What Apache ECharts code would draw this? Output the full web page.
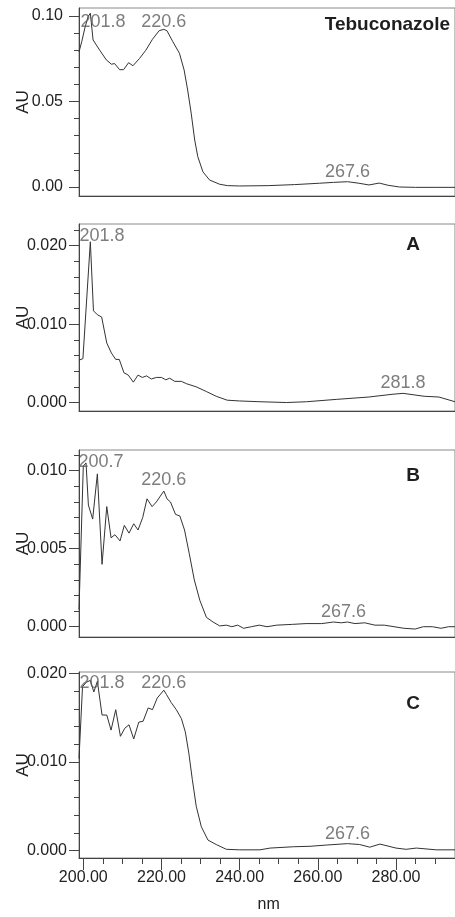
<!DOCTYPE html>
<html>
<head>
<meta charset="utf-8">
<script src="https://cdn.jsdelivr.net/npm/echarts@6/dist/echarts.min.js"></script>
<style>
  html, body { margin: 0; padding: 0; background: #ffffff; }
  #chart { width: 455px; height: 917px; }
</style>
</head>
<body>
<div id="chart"></div>
<script>
// UV spectra: [wavelength (nm), absorbance (AU)]
const tebuconazole = [
  [198.9, 0.0790], [199.6, 0.0850], [200.4, 0.0930], [201.2, 0.0995], [201.8, 0.1016],
  [202.5, 0.0860], [204.2, 0.0800], [205.9, 0.0743], [207.2, 0.0718], [208.0, 0.0722],
  [209.3, 0.0686], [210.3, 0.0686], [211.6, 0.0727], [212.7, 0.0709], [214.4, 0.0752],
  [216.0, 0.0800], [217.7, 0.0864], [219.4, 0.0914], [220.6, 0.0922], [221.4, 0.0914],
  [222.9, 0.0850], [224.6, 0.0782], [225.8, 0.0684], [226.7, 0.0567], [227.6, 0.0432],
  [228.5, 0.0275], [229.3, 0.0177], [230.6, 0.0089], [232.3, 0.0041], [234.9, 0.0016],
  [236.9, 0.0008], [240.0, 0.0006], [247.3, 0.0008], [254.0, 0.0014], [260.4, 0.0022],
  [264.0, 0.0027], [267.6, 0.0031], [270.5, 0.0022], [273.1, 0.0012], [275.7, 0.0023],
  [278.0, 0.0010], [280.9, 0.0000], [285.0, -0.0002], [290.0, -0.0002], [295.1, -0.0002]
];
const sampleA = [
  [198.9, 0.0054], [199.9, 0.0056], [201.8, 0.0205], [202.6, 0.0117], [203.6, 0.0112],
  [204.7, 0.0109], [206.0, 0.0076], [207.2, 0.0063], [208.3, 0.0055], [209.2, 0.0055],
  [210.4, 0.0038], [211.5, 0.0035], [212.8, 0.0026], [214.0, 0.0035], [215.1, 0.0032],
  [216.2, 0.0034], [217.4, 0.0030], [218.7, 0.0032], [220.0, 0.0032], [221.1, 0.0029],
  [222.1, 0.0031], [223.4, 0.0027], [225.1, 0.0027], [226.4, 0.0024], [228.9, 0.0020],
  [231.5, 0.0014], [234.0, 0.0008], [236.8, 0.0003], [240.0, 0.0002], [245.2, 0.0001],
  [252.0, 0.0000], [257.1, 0.0001], [264.7, 0.0004], [273.0, 0.0007], [279.0, 0.00105],
  [281.8, 0.00117], [287.2, 0.0008], [291.0, 0.0007], [295.1, 0.0001]
];
const sampleB = [
  [198.9, 0.0011], [200.0, 0.0103], [200.7, 0.0105], [201.3, 0.0078], [202.4, 0.0069],
  [203.6, 0.0098], [204.8, 0.0040], [206.0, 0.0077], [207.1, 0.0057], [208.1, 0.0059],
  [209.4, 0.0055], [210.5, 0.0065], [211.7, 0.0060], [212.9, 0.0066], [214.0, 0.0062],
  [215.2, 0.0070], [216.3, 0.0082], [217.6, 0.0077], [218.7, 0.0080], [220.6, 0.0087],
  [221.4, 0.0082], [222.3, 0.0080], [223.6, 0.0072], [224.7, 0.0071], [225.9, 0.0062],
  [227.1, 0.0047], [228.4, 0.0030], [229.8, 0.0017], [231.5, 0.0006], [233.2, 0.0003],
  [234.9, 0.00005], [236.6, 0.0001], [238.0, 0.0000], [239.5, 0.0001], [241.0, -0.0001],
  [243.0, 0.0000], [245.0, 0.0001], [247.0, 0.0000], [249.5, 0.0001], [253.5, 0.00015],
  [257.0, 0.0002], [261.0, 0.0002], [264.0, 0.0003], [266.0, 0.00025], [267.6, 0.0003],
  [269.5, 0.0002], [272.0, 0.00025], [274.6, 0.0001], [277.0, 0.0001], [279.5, 0.0000],
  [282.0, -0.0001], [284.9, -0.00015], [287.0, 0.0000], [289.3, 0.0000], [291.5, -0.0001],
  [293.5, 0.0000], [295.1, 0.0000]
];
const sampleC = [
  [198.9, 0.0104], [199.8, 0.0185], [200.8, 0.0190], [201.8, 0.0192], [202.7, 0.0179],
  [203.6, 0.0191], [204.8, 0.0153], [206.0, 0.0153], [207.1, 0.0136], [208.3, 0.0159],
  [209.5, 0.0129], [210.6, 0.0138], [211.7, 0.0142], [212.9, 0.0126], [214.2, 0.0145],
  [215.3, 0.0146], [216.6, 0.0161], [217.7, 0.0159], [218.9, 0.0172], [220.6, 0.0181],
  [221.3, 0.0176], [222.5, 0.0167], [223.8, 0.0159], [225.1, 0.0149], [226.1, 0.0134],
  [227.0, 0.0110], [227.9, 0.0080], [228.9, 0.0050], [230.2, 0.0027], [231.9, 0.0012],
  [234.0, 0.0007], [236.6, 0.00016], [240.0, 0.0001], [245.2, 0.0001], [247.8, 0.0003],
  [253.8, 0.00045], [258.0, 0.0005], [262.2, 0.00064], [267.6, 0.0008], [270.7, 0.0007],
  [273.3, 0.0004], [275.9, 0.00075], [280.0, 0.0003], [282.6, 0.00016], [285.2, 0.0003],
  [290.3, 0.0001], [295.1, 0.0001]
];

// labelled maxima: [wavelength, absorbance]
const peaksTebuconazole = [[201.8, 0.1016], [220.6, 0.0922], [267.6, 0.0031]];
const peaksA = [[201.8, 0.0205], [281.8, 0.00117]];
const peaksB = [[200.7, 0.0105], [220.6, 0.0087], [267.6, 0.0003]];
const peaksC = [[201.8, 0.0192], [220.6, 0.0181], [267.6, 0.0008]];

const panelNames = ['Tebuconazole', 'A', 'B', 'C'];
const yAxisTitle = 'AU';
const xAxisTitle = 'nm';

// axis scales and tick values
const xRange = [198.9, 295.1];
const xTickValues = [200, 220, 240, 260, 280];
const xMinorTickValues = [205, 210, 215, 225, 230, 235, 245, 250, 255, 265, 270, 275, 285, 290];
const yRanges = [[-0.00526, 0.10468], [-0.00108, 0.02277], [-0.00066, 0.01133], [-0.00082, 0.02015]];
const yTickValues = [[0, 0.05, 0.10], [0, 0.010, 0.020], [0, 0.005, 0.010], [0, 0.010, 0.020]];
const yMinorTickValues = [
  [0.01, 0.02, 0.03, 0.04, 0.06, 0.07, 0.08, 0.09],
  [0.002, 0.004, 0.006, 0.008, 0.012, 0.014, 0.016, 0.018, 0.022],
  [0.001, 0.002, 0.003, 0.004, 0.006, 0.007, 0.008, 0.009, 0.011],
  [0.002, 0.004, 0.006, 0.008, 0.012, 0.014, 0.016, 0.018]
];
const yDecimals = [2, 3, 3, 3];

// layout
const spectra = [tebuconazole, sampleA, sampleB, sampleC];
const peaks = [peaksTebuconazole, peaksA, peaksB, peaksC];
const gridBoxes = [
  { top: 8, height: 188 },
  { top: 224, height: 187 },
  { top: 450, height: 187 },
  { top: 672, height: 186 }
];
const yLabelMargins = [16, 12, 12, 12];
const peakLabelOffsets = [
  [[12.6, 8.4], [0, -7.6], [0, -10]],
  [[11.6, -5.8], [0, -10]],
  [[15, -1.2], [0, -10.7], [-4, -10]],
  [[11.6, 3], [0, -7], [0, -10]]
];
const panelNamePos = [
  { x: 450, y: 25, align: 'right' },
  { x: 413, y: 245, align: 'center' },
  { x: 413, y: 476, align: 'center' },
  { x: 413, y: 704, align: 'center' }
];

const FONT = '"Liberation Sans", Arial, sans-serif';
const AXIS_COLOR = '#444';
const TEXT_COLOR = '#222';

const chart = echarts.init(document.getElementById('chart'), null, { renderer: 'canvas' });

const grid = [], xAxis = [], yAxis = [], series = [], graphic = [];

gridBoxes.forEach((box, i) => {
  const last = i === gridBoxes.length - 1;
  grid.push({
    left: 79, right: -1, top: box.top, height: box.height,
    show: true, borderColor: '#8a8a8a', borderWidth: 1, backgroundColor: 'transparent'
  });

  // main x axis (bottom line, major ticks and labels on the last panel)
  xAxis.push({
    type: 'value', gridIndex: i, position: 'bottom',
    min: xRange[0], max: xRange[1],
    axisLine: { show: true, onZero: false, lineStyle: { color: AXIS_COLOR, width: 1 } },
    axisTick: last ? { show: true, length: 12, customValues: xTickValues, lineStyle: { color: AXIS_COLOR } } : { show: false },
    axisLabel: last ? {
      show: true, customValues: xTickValues, margin: 12,
      fontFamily: FONT, fontSize: 16, color: TEXT_COLOR,
      formatter: v => v.toFixed(2)
    } : { show: false },
    splitLine: { show: false }
  });

  // main y axis (labels and major ticks)
  yAxis.push({
    type: 'value', gridIndex: i, position: 'left',
    min: yRanges[i][0], max: yRanges[i][1],
    axisLine: { show: true, onZero: false, lineStyle: { color: AXIS_COLOR, width: 1 } },
    axisTick: { show: true, length: 10, customValues: yTickValues[i], lineStyle: { color: AXIS_COLOR } },
    axisLabel: {
      show: true, customValues: yTickValues[i], margin: yLabelMargins[i],
      fontFamily: FONT, fontSize: 16, color: TEXT_COLOR,
      formatter: v => v.toFixed(yDecimals[i])
    },
    splitLine: { show: false }
  });
});

// minor tick axes (same scales, drawn over the main ones)
gridBoxes.forEach((box, i) => {
  yAxis.push({
    type: 'value', gridIndex: i, position: 'left',
    min: yRanges[i][0], max: yRanges[i][1],
    axisLine: { show: false, onZero: false },
    axisTick: { show: true, length: 5, customValues: yMinorTickValues[i], lineStyle: { color: AXIS_COLOR } },
    axisLabel: { show: false },
    splitLine: { show: false }
  });
});
xAxis.push({
  type: 'value', gridIndex: 3, position: 'bottom',
  min: xRange[0], max: xRange[1],
  axisLine: { show: false, onZero: false },
  axisTick: { show: true, length: 6, customValues: xMinorTickValues, lineStyle: { color: AXIS_COLOR } },
  axisLabel: { show: false },
  splitLine: { show: false }
});

spectra.forEach((data, i) => {
  series.push({
    type: 'line', xAxisIndex: i, yAxisIndex: i,
    data: data, showSymbol: false, symbol: 'none', smooth: false,
    lineStyle: { color: '#333', width: 1 },
    silent: true, animation: false
  });
  series.push({
    type: 'scatter', xAxisIndex: i, yAxisIndex: i,
    data: peaks[i].map((p, k) => ({
      value: p,
      label: { offset: peakLabelOffsets[i][k] }
    })),
    symbolSize: 0, silent: true, animation: false,
    label: {
      show: true, position: 'inside',
      fontFamily: FONT, fontSize: 18, color: '#5c5c5c',
      formatter: p => p.value[0].toFixed(1)
    },
    z: 5
  });
});

// panel names
panelNames.forEach((name, i) => {
  graphic.push({
    type: 'text', x: panelNamePos[i].x, y: panelNamePos[i].y, silent: true,
    style: {
      text: name, fontFamily: FONT, fontSize: 19, fontWeight: 'bold', fill: '#1e1e1e',
      textAlign: panelNamePos[i].align, textVerticalAlign: 'middle'
    }
  });
  // y axis title, centred on each panel
  graphic.push({
    type: 'text', x: 23, y: gridBoxes[i].top + gridBoxes[i].height / 2,
    rotation: Math.PI / 2, silent: true,
    style: {
      text: yAxisTitle, fontFamily: FONT, fontSize: 17, fill: TEXT_COLOR,
      textAlign: 'center', textVerticalAlign: 'middle'
    }
  });
});
graphic.push({
  type: 'text', x: 268.7, y: 905, silent: true,
  style: {
    text: xAxisTitle, fontFamily: FONT, fontSize: 16, fill: TEXT_COLOR,
    textAlign: 'center', textVerticalAlign: 'middle'
  }
});

chart.setOption({
  backgroundColor: '#ffffff',
  animation: false,
  grid, xAxis, yAxis, series, graphic
});
</script>
</body>
</html>
